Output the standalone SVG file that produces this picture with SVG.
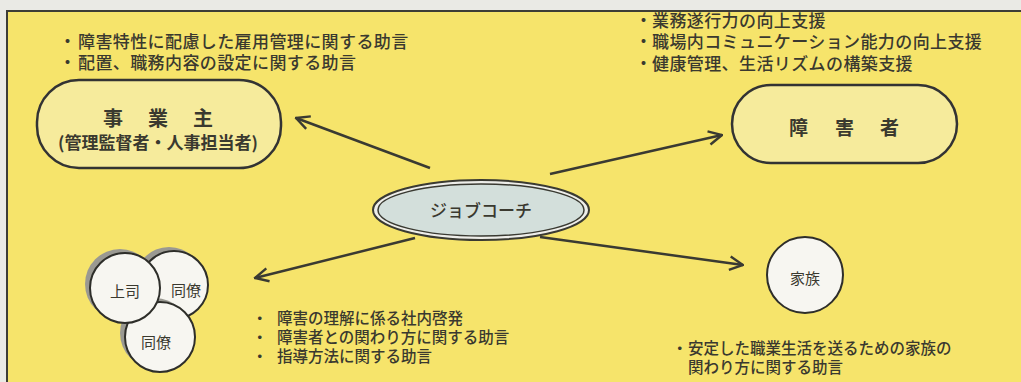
<svg xmlns="http://www.w3.org/2000/svg" width="1021" height="382" viewBox="0 0 1021 382">
<defs>
<style>
text{font-family:"Noto Sans CJK JP","Noto Sans",sans-serif;fill:#3a392f}
.t{font-size:17px;font-weight:500;letter-spacing:0.4px}
.b{font-size:15.5px;font-weight:500}
.pill{fill:#f6eb9c;stroke:#333;stroke-width:2.5}
.circ{fill:#f7f6f1;stroke:#2e2e2a;stroke-width:2}
.sh{fill:#9a9992}
.con{stroke:#3a3a32;stroke-width:2.5;fill:none;marker-end:url(#ah)}
</style>
<marker id="ah" viewBox="0 0 12 12" refX="11" refY="6" markerWidth="16" markerHeight="16" markerUnits="userSpaceOnUse" orient="auto">
<path d="M1,1 L11,6 L1,11" fill="none" stroke="#3a3a32" stroke-width="1.8"/>
</marker>
</defs>
<rect x="0" y="0" width="1021" height="382" fill="#eaeae5"/>
<rect x="7" y="11" width="1030" height="380" fill="#f6e46b" stroke="#3d3d36" stroke-width="2"/>

<g id="connectors">
<line class="con" x1="430" y1="168" x2="296" y2="118"/>
<line class="con" x1="550" y1="174" x2="722" y2="135"/>
<line class="con" x1="415" y1="238" x2="255" y2="278"/>
<line class="con" x1="540" y1="237" x2="743" y2="265"/>
</g>

<g id="employer">
<rect class="pill" x="37" y="80" width="244" height="88" rx="42"/>
<text x="103 148 193" y="126" font-size="20" font-weight="bold">事業主</text>
<text x="158" y="149" font-size="17" font-weight="bold" text-anchor="middle">(管理監督者・人事担当者)</text>
</g>

<g id="disabled">
<rect class="pill" x="732" y="85" width="225" height="78" rx="39"/>
<text x="789 835 880" y="135" font-size="19" font-weight="bold">障害者</text>
</g>

<g id="jobcoach">
<ellipse cx="481" cy="210" rx="108" ry="30" fill="#eeeeea" stroke="#3a3a32" stroke-width="2"/>
<ellipse cx="481" cy="210" rx="103" ry="26" fill="#d3dfdb" stroke="#3a3a32" stroke-width="1.5"/>
<text x="481" y="217" font-size="17" font-weight="500" text-anchor="middle">ジョブコーチ</text>
</g>

<g id="colleagues">
<circle class="sh" cx="169" cy="281" r="34"/>
<circle class="circ" cx="174" cy="285" r="34"/>
<circle class="sh" cx="155" cy="333" r="35"/>
<circle class="circ" cx="160" cy="337" r="35"/>
<circle class="sh" cx="120" cy="284" r="35"/>
<circle class="circ" cx="125" cy="288" r="35"/>
<text x="125" y="297" font-size="15" text-anchor="middle">上司</text>
<text x="186" y="296" font-size="15" text-anchor="middle">同僚</text>
<text x="156" y="348" font-size="15" text-anchor="middle">同僚</text>
</g>

<g id="family">
<circle class="circ" cx="805" cy="275" r="38"/>
<text x="805" y="284" font-size="15" text-anchor="middle">家族</text>
</g>

<g id="notes">
<text class="t"><tspan x="59" y="48">・</tspan><tspan x="78" y="48">障害特性に配慮した雇用管理に関する助言</tspan><tspan x="59" y="69">・</tspan><tspan x="78" y="69">配置、職務内容の設定に関する助言</tspan></text>
<text class="t"><tspan x="635" y="27">・</tspan><tspan x="652" y="27">業務遂行力の向上支援</tspan><tspan x="635" y="48">・</tspan><tspan x="652" y="48">職場内コミュニケーション能力の向上支援</tspan><tspan x="635" y="70">・</tspan><tspan x="652" y="70">健康管理、生活リズムの構築支援</tspan></text>
<text class="b"><tspan x="252" y="324">・</tspan><tspan x="277" y="324">障害の理解に係る社内啓発</tspan><tspan x="252" y="343">・</tspan><tspan x="277" y="343">障害者との関わり方に関する助言</tspan><tspan x="252" y="362">・</tspan><tspan x="277" y="362">指導方法に関する助言</tspan></text>
<text class="b"><tspan x="672" y="354">・</tspan><tspan x="688" y="354">安定した職業生活を送るための家族の</tspan><tspan x="688" y="373">関わり方に関する助言</tspan></text>
</g>
</svg>
